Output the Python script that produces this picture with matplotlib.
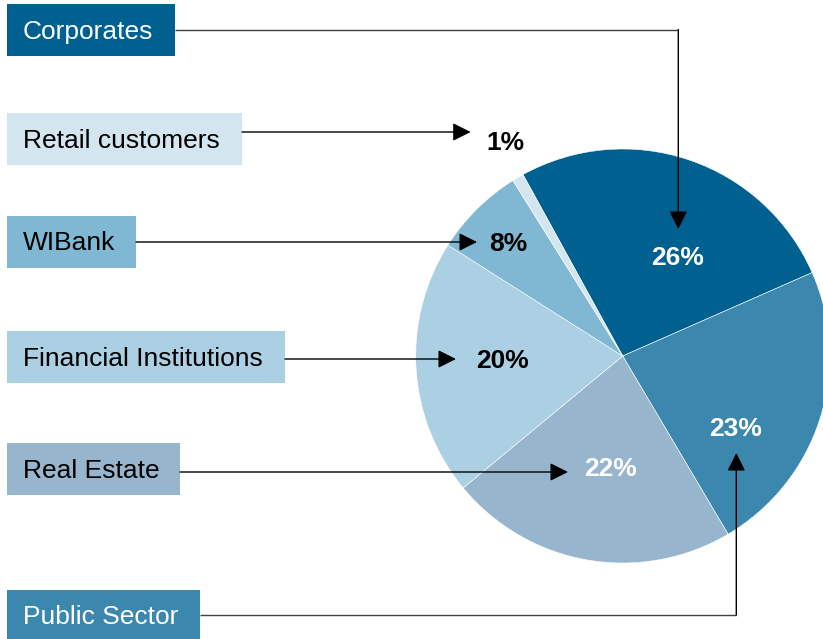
import matplotlib.pyplot as plt

plt.rcParams['font.family'] = ['Liberation Sans', 'DejaVu Sans']

# --- DATA --- #
sectors = ["Corporates", "Public Sector", "Real Estate",
           "Financial Institutions", "WIBank", "Retail customers"]
shares = [26.4, 23.1, 22.5, 20.0, 7.1, 0.9]          # slice sizes as drawn
pct_labels = ["26%", "23%", "22%", "20%", "8%", "1%"]
colors = ["#00608f", "#3b87ad", "#97b5cd", "#abcfe3", "#80b8d4", "#d3e6f0"]
text_colors = ["white", "white", "black", "black", "black", "black"]
pct_colors = ["white", "white", "white", "black", "black", "black"]
# ------------ #

W, H = 823, 639

def Y(p):
    # pixel-from-top -> data y
    return H - p

fig = plt.figure(figsize=(W / 100, H / 100), dpi=100)
ax = fig.add_axes([0, 0, 1, 1])

ax.pie(shares, colors=colors, center=(622.7, Y(356)), radius=207,
       startangle=118.8, counterclock=False,
       wedgeprops=dict(edgecolor="white", linewidth=0.4), frame=True)
ax.set_xlim(0, W)
ax.set_ylim(0, H)
ax.set_aspect("equal")
ax.axis("off")

# label boxes: (x0, x1, top, bottom) in pixels
boxes = {
    "Corporates": (7, 175, 4, 56),
    "Retail customers": (7, 242, 113, 165),
    "WIBank": (7, 136, 216, 268),
    "Financial Institutions": (7, 285, 331, 383),
    "Real Estate": (7, 180, 443, 495),
    "Public Sector": (7, 200, 590, 642),
}

# percent label centres
pct_pos = {
    "Corporates": (678, 258),
    "Public Sector": (736, 429),
    "Real Estate": (611, 469),
    "Financial Institutions": (503, 361),
    "WIBank": (508, 244),
    "Retail customers": (505, 143),
}

# connector paths (pixel points), last point is the arrow tip
paths = {
    "Corporates": [(175, 29.5), (678.3, 29.5), (678.3, 229)],
    "Retail customers": [(242, 132), (470.7, 132)],
    "WIBank": [(136, 242), (477, 242)],
    "Financial Institutions": [(285, 359), (456, 359)],
    "Real Estate": [(180, 472), (568, 472)],
    "Public Sector": [(200, 615), (736.3, 615), (736.3, 453)],
}

for i, name in enumerate(sectors):
    x0, x1, top, bot = boxes[name]
    ax.add_patch(plt.Rectangle((x0, Y(bot)), x1 - x0, bot - top,
                               facecolor=colors[i], edgecolor="none"))
    ax.text(x0 + 16, Y((top + bot) / 2 + 1.5), name, color=text_colors[i],
            fontsize=19, ha="left", va="center")

    px, py = pct_pos[name]
    ax.text(px, Y(py), pct_labels[i], color=pct_colors[i], fontsize=19,
            fontweight="bold", ha="center", va="center")

    pts = paths[name]
    if len(pts) > 2:
        xs = [p[0] for p in pts[:-1]]
        ys = [Y(p[1]) for p in pts[:-1]]
        ax.plot(xs, ys, color="#404040", lw=1.0, solid_capstyle="butt")
    (sx, sy), (tx, ty) = pts[-2], pts[-1]
    ax.annotate("", xy=(tx, Y(ty)), xytext=(sx, Y(sy)),
                arrowprops=dict(arrowstyle="-|>,head_length=1.1,head_width=0.55",
                                mutation_scale=10, color="black", lw=1.0,
                                shrinkA=0, shrinkB=0))

fig.savefig("out.png", dpi=100)
